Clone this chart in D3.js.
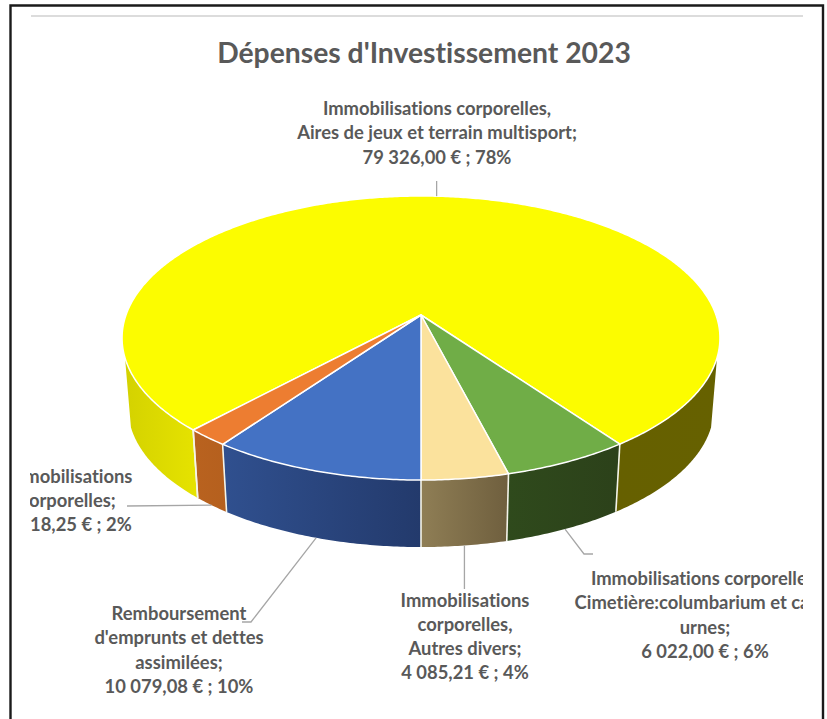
<!DOCTYPE html>
<html><head><meta charset="utf-8">
<script src="https://cdn.jsdelivr.net/npm/d3@7"></script>
<style>html,body{margin:0;padding:0;background:#fff}svg{display:block}text{font-variant-ligatures:none}</style>
</head><body><div id="c"></div>
<script>
(function(){
const categories=["Immobilisations corporelles, Aires de jeux et terrain multisport","Immobilisations corporelles, Cimetière:columbarium et cases urnes","Immobilisations corporelles, Autres divers","Remboursement d'emprunts et dettes assimilées","Immobilisations corporelles"];
const values=[79326.00,6022.00,4085.21,10079.08,2018.25];
const topColors=["#fcfc00","#70ad47","#fbe29d","#4472c4","#ed7d31"];
const wallFrom=["#e6e300","#2f4a1c","#8f7e55","#30508f","#b9621f"];
const wallTo=["#646000","#2c411a","#6f5f3e","#233a6c","#b5601e"];
const labelLines=[
 ["Immobilisations corporelles,","Aires de jeux et terrain multisport;","79 326,00 € ; 78%"],
 ["Immobilisations corporelles,","Cimetière:columbarium et cases","urnes;","6 022,00 € ; 6%"],
 ["Immobilisations","corporelles,","Autres divers;","4 085,21 € ; 4%"],
 ["Remboursement","d'emprunts et dettes","assimilées;","10 079,08 € ; 10%"],
 ["Immobilisations","corporelles;","2 018,25 € ; 2%"]];
const title="Dépenses d'Investissement 2023";

const W=827,H=719;
const svg=d3.select("#c").append("svg").attr("width",W).attr("height",H);
const defs=svg.append("defs");
defs.append("clipPath").attr("id","clip").append("rect").attr("x",30).attr("y",0).attr("width",773).attr("height",H);

svg.append("path").attr("d",`M10.5,${H} V5.5 H823 V${H}`).attr("fill","none").attr("stroke","#1a1a1a").attr("stroke-width",2.4);
svg.append("line").attr("x1",31).attr("x2",803).attr("y1",16).attr("y2",16).attr("stroke","#dcdcdc").attr("stroke-width",2);

// perspective projection of the disc
const cx=421,cy=315,R=295,B=138.3,k=0.162,D=70.3,S=0.98;
const topPt=a=>{const u=Math.sin(a),v=Math.cos(a),w=1-k*v;return [cx+R*u/w,cy+B*v/w];};
const botPt=a=>{const p=topPt(a);return [cx+(p[0]-cx)*S,cy+D+(p[1]-cy)*S];};

const total=d3.sum(values);
const green0=(values[1]+values[2])/total*2*Math.PI;
const start=green0+values[0]/total*2*Math.PI;
const arcs=d3.pie().sort(null).value(d=>d).startAngle(start).endAngle(start-2*Math.PI)(values);
function sample(a0,a1,fn){const n=Math.max(2,Math.ceil(Math.abs(a1-a0)/0.01));return d3.range(n+1).map(i=>fn(a0+(a1-a0)*i/n));}
const line=d3.line();
const limit=Math.acos(0.296);
const norm=a=>{let x=a;while(x>Math.PI)x-=2*Math.PI;while(x<=-Math.PI)x+=2*Math.PI;return x;};

const walls=svg.append("g");
let gid=0;
function wall(a0,a1,c0,c1){
 const t=sample(a0,a1,topPt),b=sample(a1,a0,botPt);
 const [x0,x1]=d3.extent(t.concat(b),p=>p[0]);
 const id="g"+(gid++);
 const g=defs.append("linearGradient").attr("id",id).attr("gradientUnits","userSpaceOnUse").attr("x1",x0).attr("x2",x1).attr("y1",0).attr("y2",0);
 g.append("stop").attr("offset",0).attr("stop-color",c0);
 g.append("stop").attr("offset",1).attr("stop-color",c1);
 walls.append("path").attr("d",line(t.concat(b))+"Z").attr("fill",`url(#${id})`);
}
arcs.forEach((d,i)=>{
 if(i===0){
  wall(norm(d.startAngle),-limit,"#d4d200","#e6e300");
  wall(d.endAngle,limit,"#666000","#666100");
 } else wall(norm(d.startAngle),norm(d.endAngle),wallFrom[i],wallTo[i]);
});
arcs.forEach(d=>{
 const a=d.endAngle,p=topPt(a),q=botPt(a);
 walls.append("line").attr("x1",p[0]).attr("y1",p[1]).attr("x2",q[0]).attr("y2",q[1]).attr("stroke","#f4f4ea").attr("stroke-width",1.6);
});
{const a=arcs[0].startAngle,p=topPt(a),q=botPt(a);
 walls.append("line").attr("x1",p[0]).attr("y1",p[1]).attr("x2",q[0]).attr("y2",q[1]).attr("stroke","#f4f4ea").attr("stroke-width",1.6);}

const tops=svg.append("g");
arcs.forEach((d,i)=>{
 const pts=[[cx,cy]].concat(sample(d.startAngle,d.endAngle,topPt));
 tops.append("path").attr("d",line(pts)+"Z").attr("fill",topColors[i]).attr("stroke","#fff").attr("stroke-width",1.5).attr("stroke-linejoin","round");
});

const mids=arcs.map(d=>(d.startAngle+d.endAngle)/2);
const leaders=svg.append("g").attr("fill","none").attr("stroke","#a6a6a6").attr("stroke-width",1.3);
const yTop=topPt(mids[0]);
leaders.append("path").attr("d",line([[yTop[0],181],yTop]));
leaders.append("path").attr("d",line([botPt(mids[1]),[584,554],[593,554]]));
const bb=botPt(mids[2]);leaders.append("path").attr("d",line([bb,[bb[0],589]]));
leaders.append("path").attr("d",line([botPt(mids[3]),[251,622],[242,622]]));
leaders.append("path").attr("d",line([botPt(mids[4]),[127,506]]));

const ff="Lato, Carlito, 'Open Sans', sans-serif";
svg.append("text").attr("x",424).attr("y",63).attr("text-anchor","middle").attr("font-family",ff).attr("font-weight",700).attr("font-size",28.3).attr("fill","#595959").text(title);
const labelG=svg.append("g").attr("clip-path","url(#clip)");
const anchors=[[437,115,24.3],[705,585,24.3],[465,607,24],[179,620,24.3],[68,483,24]];
labelLines.forEach((ls,i)=>{
 const t=labelG.append("text").attr("text-anchor","middle").attr("font-family",ff).attr("font-weight",700).attr("font-size",18.4).attr("fill","#595959");
 ls.forEach((s,j)=>t.append("tspan").attr("x",anchors[i][0]).attr("y",anchors[i][1]+j*anchors[i][2]).text(s));
});
})();
</script></body></html>
